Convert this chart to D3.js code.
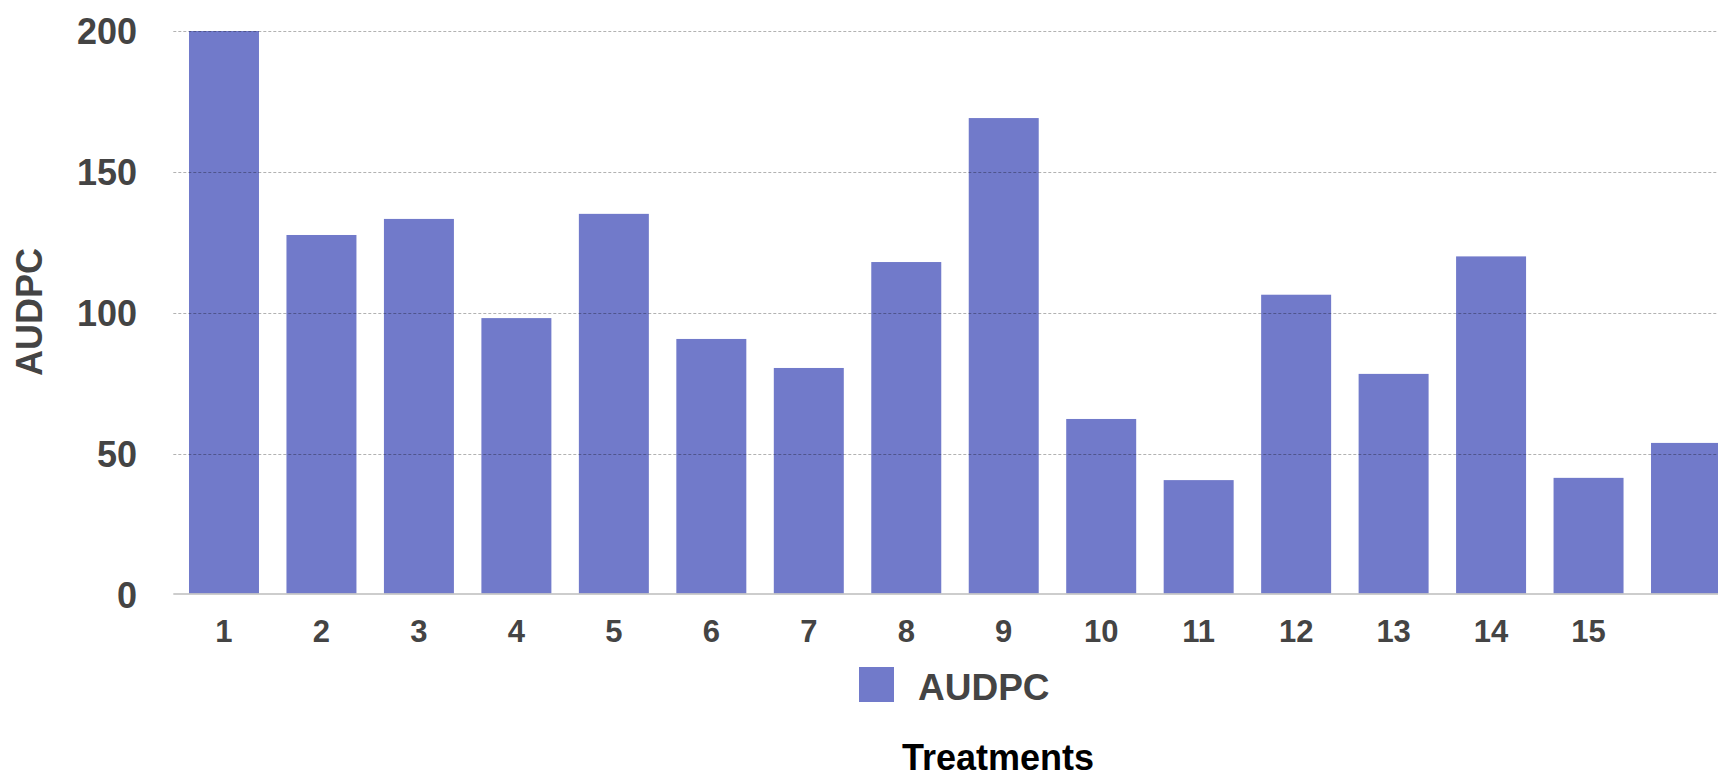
<!DOCTYPE html>
<html>
<head>
<meta charset="utf-8">
<script src="https://cdn.jsdelivr.net/npm/d3@7"></script>
<style>
  html, body { margin: 0; padding: 0; background: #fff; overflow: hidden; }
  svg { display: block; font-family: "Liberation Sans", Arial, Helvetica, sans-serif; }
</style>
</head>
<body>
<svg id="chart" width="1718" height="772"></svg>
<script>
// ---- data ----
const categories = ["1","2","3","4","5","6","7","8","9","10","11","12","13","14","15","16"];
const audpc = [200, 127.6, 133.3, 98.1, 135.1, 90.7, 80.4, 118.0, 169.1, 62.3, 40.6, 106.4, 78.3, 120.0, 41.4, 53.8];
const xTickLabels = ["1","2","3","4","5","6","7","8","9","10","11","12","13","14","15"];
const yTicks = [0, 50, 100, 150, 200];
const seriesName = "AUDPC";
const yTitle = "AUDPC";
const xTitle = "Treatments";

// ---- layout ----
const W = 1718, H = 772;
const plotLeft = 173.3;
const barColor = "#717aca";
const textColor = "#444444";

const svg = d3.select("#chart");

const x = d3.scaleBand()
  .domain(categories)
  .range([plotLeft, plotLeft + 1563.4])
  .paddingInner(0.282)
  .paddingOuter(0.161);

const y = d3.scaleLinear().domain([0, 200]).range([594.5, 31]);

// bars
svg.append("g")
  .selectAll("rect")
  .data(categories.map((c, i) => ({ c, v: audpc[i] })))
  .join("rect")
  .attr("x", d => x(d.c))
  .attr("y", d => y(d.v))
  .attr("width", x.bandwidth())
  .attr("height", d => y(0) - 1 - y(d.v))
  .attr("fill", barColor);

// grid lines (drawn over bars)
svg.append("g")
  .selectAll("line")
  .data(yTicks.filter(t => t > 0))
  .join("line")
  .attr("x1", plotLeft)
  .attr("x2", W)
  .attr("y1", d => Math.round(y(d)) + 0.5)
  .attr("y2", d => Math.round(y(d)) + 0.5)
  .attr("stroke", "rgba(0,0,0,0.3)")
  .attr("stroke-width", 1)
  .attr("stroke-dasharray", "3,2");

// baseline axis
svg.append("line")
  .attr("x1", plotLeft).attr("x2", W)
  .attr("y1", y(0) - 0.5).attr("y2", y(0) - 0.5)
  .attr("stroke", "#bdbdbd")
  .attr("stroke-width", 1.5);

// y axis labels
const yAxis = d3.axisLeft(y).tickValues(yTicks).tickSize(0).tickPadding(0);
const yg = svg.append("g").attr("transform", "translate(137,0)").call(yAxis);
yg.select(".domain").remove();
yg.selectAll("text")
  .attr("x", 0)
  .attr("dy", "0.36em")
  .attr("fill", textColor)
  .style("font-size", "36px")
  .style("font-weight", "bold")
  .style("font-family", "'Liberation Sans', Arial, sans-serif");

// x axis labels
const xAxis = d3.axisBottom(x).tickValues(xTickLabels).tickSize(0).tickPadding(0);
const xg = svg.append("g").attr("transform", "translate(0,619)").call(xAxis);
xg.select(".domain").remove();
xg.selectAll("text")
  .attr("y", 0)
  .attr("dy", "0.75em")
  .attr("fill", textColor)
  .style("font-size", "31px")
  .style("font-weight", "bold")
  .style("font-family", "'Liberation Sans', Arial, sans-serif");

// y title
svg.append("text")
  .attr("transform", "translate(42,312) rotate(-90)")
  .attr("text-anchor", "middle")
  .attr("fill", textColor)
  .style("font-size", "36px")
  .style("font-weight", "bold")
  .text(yTitle);

// legend
svg.append("rect")
  .attr("x", 859).attr("y", 667)
  .attr("width", 35).attr("height", 35)
  .attr("fill", barColor);
svg.append("text")
  .attr("x", 918).attr("y", 700)
  .attr("fill", textColor)
  .style("font-size", "37px")
  .style("font-weight", "bold")
  .text(seriesName);

// x title
svg.append("text")
  .attr("x", 998).attr("y", 770)
  .attr("text-anchor", "middle")
  .attr("fill", "#000")
  .style("font-size", "36px")
  .style("font-weight", "bold")
  .text(xTitle);
</script>
</body>
</html>
